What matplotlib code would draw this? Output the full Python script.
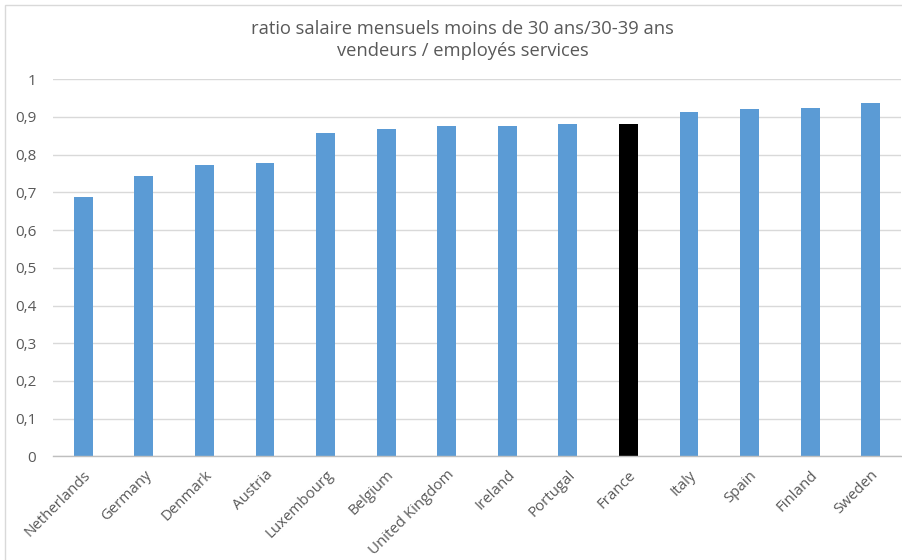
import matplotlib
matplotlib.use("Agg")
import matplotlib.pyplot as plt
from matplotlib.patches import Rectangle
from matplotlib.ticker import FixedLocator, FuncFormatter

plt.rcParams['font.family'] = ['Open Sans', 'DejaVu Sans']

countries = ["Netherlands", "Germany", "Denmark", "Austria", "Luxembourg",
             "Belgium", "United Kingdom", "Ireland", "Portugal", "France",
             "Italy", "Spain", "Finland", "Sweden"]
ratios = [0.688, 0.743, 0.772, 0.779, 0.857, 0.868, 0.877,
          0.877, 0.881, 0.881, 0.913, 0.922, 0.925, 0.937]
highlight = "France"
y_ticks = [0, 0.1, 0.2, 0.3, 0.4, 0.5, 0.6, 0.7, 0.8, 0.9, 1.0]
title = "ratio salaire mensuels moins de 30 ans/30-39 ans\nvendeurs / employés services"

W, H = 903, 560
fig = plt.figure(figsize=(W / 100, H / 100), dpi=100)
fig.patch.set_facecolor("white")

# chart frame
fig.patches.append(Rectangle((5 / W, -0.1), 1.2, (H - 5) / H + 0.1,
                             transform=fig.transFigure, fill=False,
                             edgecolor="#D9D9D9", linewidth=1.0))

left, right, top, bottom = 53, 901, 79.3, 456.3
ax = fig.add_axes([left / W, 1 - bottom / H, (right - left) / W, (bottom - top) / H])

x = range(len(countries))
colors = ["#000000" if c == highlight else "#5B9BD5" for c in countries]
ax.bar(x, ratios, width=0.31, color=colors, zorder=3)

ax.set_xlim(-0.5, len(countries) - 0.5)
ax.set_ylim(0, 1)
ax.yaxis.set_major_locator(FixedLocator(y_ticks))
ax.yaxis.set_major_formatter(FuncFormatter(
    lambda v, p: "0" if v == 0 else ("1" if v == 1 else f"{v:.1f}".replace(".", ","))))
ax.grid(axis="y", color="#D9D9D9", linewidth=1.0, zorder=0)
ax.set_axisbelow(True)

for s in ["top", "right", "left"]:
    ax.spines[s].set_visible(False)
ax.spines["bottom"].set_color("#BFBFBF")
ax.spines["bottom"].set_linewidth(1.0)
ax.spines["bottom"].set_zorder(4)

ax.set_xticks(list(x))
ax.set_xticklabels(countries, rotation=45, ha="right", va="top",
                   rotation_mode="anchor", fontsize=10.8, color="#595959")
ax.tick_params(axis="x", length=0, pad=8)
ax.tick_params(axis="y", length=0, pad=12, labelsize=11, labelcolor="#595959")

fig.text((W / 2 + 11) / W, 1 - 40 / H, title, ha="center", va="center",
         fontsize=13.2, color="#595959", linespacing=1.3)

fig.savefig("out.png", dpi=100)
